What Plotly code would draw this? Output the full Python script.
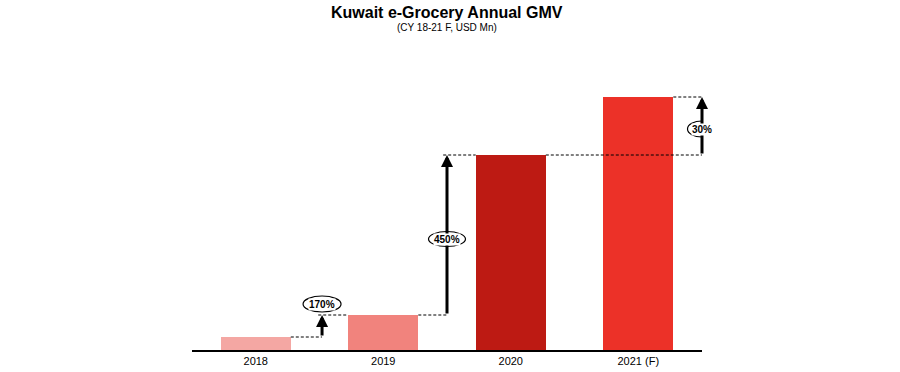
import plotly.graph_objects as go

categories = ["2018", "2019", "2020", "2021 (F)"]
gmv = [13, 35, 195, 253]
growth_labels = ["170%", "450%", "30%"]
bar_colors = ["#F4A7A3", "#F1837D", "#BD1A13", "#EC3128"]

BW = 0.55
HALF = BW / 2
arrow_x = [0.52, 1.5, 3.5]
FONT = "Arial, Liberation Sans, Helvetica, sans-serif"

fig = go.Figure()
fig.add_trace(go.Bar(
    x=list(range(len(categories))), y=gmv, width=BW,
    marker=dict(color=bar_colors, line=dict(width=0)),
    hoverinfo="skip", showlegend=False,
))

shapes = []
annotations = []
dash = dict(color="black", width=1, dash="3px,2px")

for i, ax_ in enumerate(arrow_x):
    lo, hi = gmv[i], gmv[i + 1]
    shapes.append(dict(type="line", xref="x", yref="y", x0=i + HALF, x1=ax_, y0=lo, y1=lo, line=dash))
    if i < 2:
        shapes.append(dict(type="line", xref="x", yref="y", x0=ax_ - 0.03, x1=i + 1 - HALF, y0=hi, y1=hi, line=dash))
    else:
        shapes.append(dict(type="line", xref="x", yref="y", x0=i + 1 + HALF, x1=ax_, y0=hi, y1=hi, line=dash))
    annotations.append(dict(
        x=ax_, y=hi, ax=ax_, ay=lo, xref="x", yref="y", axref="x", ayref="y",
        showarrow=True, arrowhead=2, arrowsize=0.8, arrowwidth=3, arrowcolor="black", text="",
    ))

label_pos = [(arrow_x[0], gmv[1] + 11, 38, 16),
             (arrow_x[1], (gmv[1] + gmv[2]) / 2 - 4, 37, 15),
             (arrow_x[2], (gmv[2] + gmv[3]) / 2 - 3, 29, 16)]
for (lx, ly, w, h), txt in zip(label_pos, growth_labels):
    shapes.append(dict(type="circle", xref="x", yref="y", xsizemode="pixel", ysizemode="pixel",
                       xanchor=lx, yanchor=ly, x0=-w / 2, x1=w / 2, y0=-h / 2, y1=h / 2,
                       fillcolor="white", line=dict(color="black", width=1.2), layer="above"))
    annotations.append(dict(x=lx, y=ly, xref="x", yref="y", text="<b>" + txt + "</b>", showarrow=False,
                            bgcolor="white", borderpad=0,
                            font=dict(family=FONT, size=10, color="black")))

annotations.append(dict(x=0.5, y=(350 - 12) / 270, xref="paper", yref="paper", yanchor="middle",
                        text="<b>Kuwait e-Grocery Annual GMV</b>", showarrow=False,
                        font=dict(family=FONT, size=16, color="black")))
annotations.append(dict(x=0.5, y=(350 - 27) / 270, xref="paper", yref="paper", yanchor="middle",
                        text="(CY 18-21 F, USD Mn)", showarrow=False,
                        font=dict(family=FONT, size=10, color="black")))

fig.update_layout(
    width=900, height=372,
    margin=dict(l=192, r=198, t=80, b=22, autoexpand=False),
    paper_bgcolor="white", plot_bgcolor="white",
    xaxis=dict(range=[-0.5, 3.5], tickmode="array", tickvals=list(range(len(categories))), ticktext=categories,
               showgrid=False, zeroline=False, showline=True, linecolor="black", linewidth=1.5,
               ticks="", automargin=False, tickfont=dict(family=FONT, size=11, color="black"), fixedrange=True),
    yaxis=dict(range=[0, 270], visible=False, showgrid=False, zeroline=False, automargin=False, fixedrange=True),
    shapes=shapes,
    annotations=annotations,
    bargap=0,
)

fig.write_html("out.html", config={"displayModeBar": False},
               post_script="document.body.style.margin='0';document.body.style.padding='0';")
